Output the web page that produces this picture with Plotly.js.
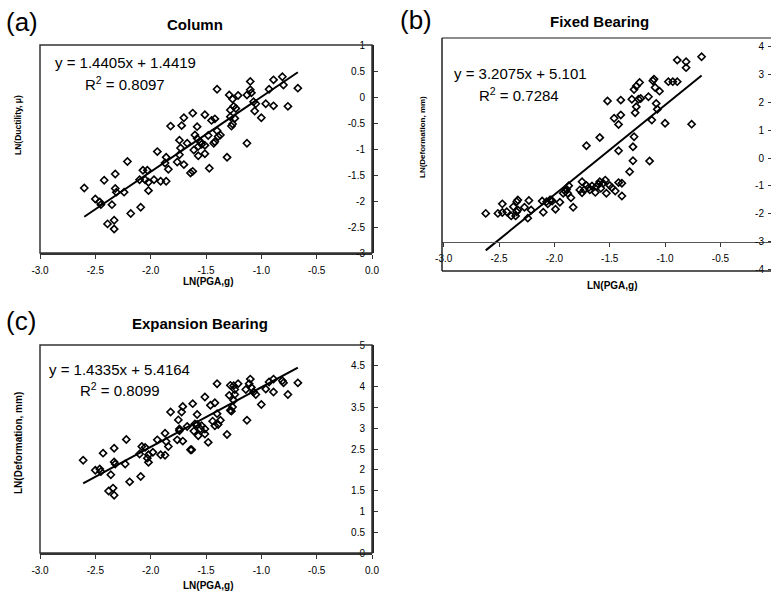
<!DOCTYPE html>
<html>
<head>
<meta charset="utf-8">
<script src="https://cdn.plot.ly/plotly-3.0.1.min.js"></script>
<style>html,body{margin:0;padding:0;background:#fff;}#chart{width:771px;height:591px;}</style>
</head>
<body>
<div id="chart"></div>
<script>
// ---------- DATA ----------
// Panel (a) Column: LN(PGA,g) vs LN(Ductility)
const xA = [-2.60,-2.50,-2.46,-2.45,-2.42,-2.39,-2.35,-2.33,-2.33,-2.32,-2.32,-2.31,-2.24,-2.21,-2.18,-2.09,-2.10,-2.07,-2.03,-2.02,-2.02,-2.05,-1.97,-1.94,-1.91,-1.86,-1.86,-1.87,-1.84,-1.82,-1.76,-1.74,-1.73,-1.72,-1.70,-1.70,-1.74,-1.67,-1.64,-1.62,-1.62,-1.61,-1.60,-1.58,-1.58,-1.57,-1.57,-1.55,-1.54,-1.51,-1.51,-1.51,-1.47,-1.48,-1.45,-1.42,-1.42,-1.40,-1.40,-1.39,-1.37,-1.43,-1.31,-1.29,-1.28,-1.28,-1.27,-1.26,-1.25,-1.26,-1.24,-1.23,-1.21,-1.13,-1.13,-1.10,-1.10,-1.09,-1.07,-1.06,-1.05,-1.00,-0.96,-0.93,-0.89,-0.89,-0.81,-0.80,-0.76,-0.67];
const yA = [-1.75,-1.96,-2.02,-2.07,-1.60,-2.44,-2.07,-2.37,-2.54,-1.48,-1.76,-1.83,-1.83,-1.24,-2.24,-2.12,-1.59,-1.41,-1.41,-1.64,-1.80,-1.59,-1.59,-1.05,-1.62,-1.62,-1.16,-1.27,-1.39,-0.56,-1.25,-0.83,-0.98,-0.55,-0.40,-1.30,-1.11,-0.89,-1.46,-1.43,-0.31,-1.02,-0.73,-0.57,-0.80,-0.95,-1.13,-0.86,-0.91,-0.34,-0.93,-1.09,-1.37,-0.74,-0.45,-0.42,-0.86,-0.65,0.15,-0.76,-0.73,-0.89,-1.16,0.04,-0.25,-0.38,-0.56,-0.04,-0.18,-0.52,-0.41,-0.22,0.03,-0.89,0.04,0.14,0.30,0.08,-0.09,-0.27,-0.13,-0.40,-0.13,0.15,0.33,-0.17,0.39,0.23,-0.18,0.17];

// Panel (b) Fixed Bearing: LN(PGA,g) vs LN(Deformation, mm)
const xB = [-2.62,-2.51,-2.47,-2.47,-2.43,-2.39,-2.37,-2.35,-2.34,-2.33,-2.33,-2.34,-2.27,-2.24,-2.23,-2.21,-2.11,-2.10,-2.07,-2.06,-2.04,-2.03,-2.02,-1.99,-1.95,-1.92,-1.90,-1.89,-1.88,-1.87,-1.85,-1.83,-1.75,-1.71,-1.77,-1.75,-1.73,-1.71,-1.69,-1.68,-1.66,-1.63,-1.62,-1.60,-1.59,-1.59,-1.58,-1.56,-1.54,-1.53,-1.52,-1.50,-1.48,-1.46,-1.45,-1.42,-1.42,-1.42,-1.40,-1.40,-1.39,-1.39,-1.32,-1.30,-1.29,-1.29,-1.28,-1.28,-1.27,-1.26,-1.26,-1.24,-1.23,-1.22,-1.15,-1.14,-1.12,-1.11,-1.10,-1.09,-1.08,-1.07,-1.05,-1.00,-0.97,-0.93,-0.89,-0.89,-0.81,-0.81,-0.76,-0.67];
const yB = [-1.98,-1.98,-1.64,-1.95,-1.92,-2.07,-1.74,-2.07,-1.56,-1.86,-1.50,-1.92,-1.76,-2.15,-1.52,-1.86,-1.54,-1.94,-1.56,-1.64,-1.50,-1.50,-1.54,-1.83,-1.58,-1.26,-1.20,-1.12,-1.26,-0.99,-1.42,-1.76,-0.85,0.44,-1.14,-1.24,-1.14,-0.98,-1.06,-1.14,-1.00,-1.23,-1.02,-0.94,-0.85,0.73,-1.08,-0.90,-0.79,-1.26,2.04,-0.98,-1.06,1.42,-1.18,-0.88,1.20,0.26,2.07,1.54,-0.90,-1.36,-0.49,2.10,0.40,-0.10,2.45,0.76,1.62,1.83,2.57,2.10,2.70,2.13,2.19,-0.11,1.36,2.76,2.82,2.52,1.95,1.74,2.39,1.24,2.73,2.73,2.73,3.50,3.44,3.23,1.21,3.62];

// Panel (c) Expansion Bearing: LN(PGA,g) vs LN(Deformation, mm)
const xC = [-2.61,-2.50,-2.46,-2.45,-2.43,-2.38,-2.36,-2.34,-2.33,-2.33,-2.33,-2.32,-2.23,-2.22,-2.19,-2.09,-2.10,-2.08,-2.05,-2.03,-2.02,-2.02,-1.98,-1.94,-1.91,-1.87,-1.87,-1.86,-1.84,-1.82,-1.76,-1.75,-1.74,-1.72,-1.71,-1.71,-1.74,-1.67,-1.64,-1.63,-1.62,-1.61,-1.60,-1.58,-1.58,-1.57,-1.55,-1.54,-1.51,-1.51,-1.51,-1.48,-1.46,-1.44,-1.42,-1.42,-1.40,-1.40,-1.39,-1.37,-1.31,-1.29,-1.28,-1.28,-1.27,-1.26,-1.25,-1.25,-1.24,-1.24,-1.21,-1.13,-1.14,-1.11,-1.10,-1.09,-1.07,-1.05,-1.00,-0.96,-0.93,-0.89,-0.89,-0.81,-0.80,-0.76,-0.67];
const yC = [2.23,1.99,2.02,1.96,2.40,1.49,1.88,1.56,1.39,2.52,2.19,2.14,2.14,2.73,1.71,1.84,2.38,2.56,2.54,2.28,2.18,2.36,2.42,2.72,2.36,2.35,2.88,2.68,2.56,3.39,2.72,3.20,2.94,3.39,3.52,2.69,2.98,3.04,2.48,2.48,3.59,2.93,3.10,3.33,3.09,2.82,2.98,3.06,3.75,2.86,2.98,2.66,3.55,3.17,3.61,3.06,3.35,4.07,3.09,3.19,2.85,3.79,4.03,3.43,3.41,3.51,3.67,4.02,3.93,3.81,4.07,3.19,3.93,4.07,4.18,3.98,3.87,3.81,3.57,3.94,4.11,4.18,3.87,4.14,4.09,3.81,4.09];

// Regression equations as printed on the chart
const slopeA = 1.4405, interceptA = 1.4419, r2A = "0.8097";
const slopeB = 3.2075, interceptB = 5.101,  r2B = "0.7284";
const slopeC = 1.4335, interceptC = 5.4164, r2C = "0.8099";

const titles = ["Column", "Fixed Bearing", "Expansion Bearing"];
const panelLetters = ["(a)", "(b)", "(c)"];

// Tick labels
const xTickVals = [-3.0,-2.5,-2.0,-1.5,-1.0,-0.5,0.0];
const xTickText = ["-3.0","-2.5","-2.0","-1.5","-1.0","-0.5","0.0"];
const yATickVals = [-3,-2.5,-2,-1.5,-1,-0.5,0,0.5,1];
const yATickText = ["-3","-2.5","-2","-1.5","-1","-0.5","0","0.5","1"];
const yBTickVals = [-4,-3,-2,-1,0,1,2,3,4];
const yBTickText = ["-4","-3","-2","-1","0","1","2","3","4"];
const yCTickVals = [0,0.5,1,1.5,2,2.5,3,3.5,4,4.5,5];
const yCTickText = ["0","0.5","1","1.5","2","2.5","3","3.5","4","4.5","5"];

// ---------- DRAWING ----------
const W = 771, H = 591;
const px = v => v / W;
const py = v => 1 - v / H;
const FONT = "Liberation Sans, Arial, Helvetica, sans-serif";

function trend(xs, m, b) {
  const lo = Math.min(...xs), hi = Math.max(...xs);
  return { x: [lo, hi], y: [m * lo + b, m * hi + b] };
}
const mk = { symbol: 'diamond-open', size: 5.5, color: '#000', line: { width: 1.6, color: '#000' } };

const tA = trend(xA, slopeA, interceptA);
const tB = trend(xB, slopeB, interceptB);
const tC = trend(xC, slopeC, interceptC);

const data = [
  { x: xA, y: yA, xaxis: 'x', yaxis: 'y', mode: 'markers', type: 'scatter', marker: mk, cliponaxis: false },
  { x: tA.x, y: tA.y, xaxis: 'x', yaxis: 'y', mode: 'lines', type: 'scatter', line: { color: '#000', width: 2 } },
  { x: xB, y: yB, xaxis: 'x2', yaxis: 'y2', mode: 'markers', type: 'scatter', marker: mk, cliponaxis: false },
  { x: tB.x, y: tB.y, xaxis: 'x2', yaxis: 'y2', mode: 'lines', type: 'scatter', line: { color: '#000', width: 2 } },
  { x: xC, y: yC, xaxis: 'x3', yaxis: 'y3', mode: 'markers', type: 'scatter', marker: mk, cliponaxis: false },
  { x: tC.x, y: tC.y, xaxis: 'x3', yaxis: 'y3', mode: 'lines', type: 'scatter', line: { color: '#000', width: 2 } }
];

const tickFont = { family: FONT, size: 10, color: '#000' };
function xAx(domain, range, extra) {
  return Object.assign({
    domain: domain, range: range, tickmode: 'array', tickvals: xTickVals, ticktext: xTickText,
    ticks: 'outside', ticklen: 4, tickcolor: '#333', tickwidth: 1,
    showline: true, linecolor: '#333', linewidth: 1.5,
    showgrid: false, zeroline: false, tickfont: tickFont, fixedrange: true, ticklabelstandoff: 3,
    ticklabeloverflow: 'allow'
  }, extra || {});
}
function yAx(domain, range, vals, text, extra) {
  return Object.assign({
    domain: domain, range: range, tickmode: 'array', tickvals: vals, ticktext: text,
    side: 'left', anchor: 'free', ticks: 'inside', ticklen: 4, tickcolor: '#333', tickwidth: 1,
    showline: true, linecolor: '#222', linewidth: 1.5,
    showgrid: false, zeroline: false, tickfont: tickFont, fixedrange: true,
    ticklabeloverflow: 'allow', ticklabelstandoff: 5
  }, extra || {});
}

const layout = {
  width: W, height: H,
  margin: { l: 0, r: 0, t: 0, b: 0, pad: 0 },
  paper_bgcolor: '#fff', plot_bgcolor: 'rgba(0,0,0,0)',
  showlegend: false,
  font: { family: FONT, color: '#000' },
  xaxis:  xAx([px(40), px(372)], [-3, 0], { anchor: 'y' }),
  yaxis:  yAx([py(253), py(45)], [-3, 1], yATickVals, yATickText, { position: px(372) }),
  xaxis2: xAx([px(442), 1], [-3.015, -0.043], { anchor: 'free', position: py(242), linecolor: '#555', linewidth: 1 }),
  yaxis2: yAx([py(271), py(38)], [-4.04, 4.29], yBTickVals, yBTickText, { position: 1, showline: false, ticks: 'outside', ticklen: 3, ticklabelstandoff: 2 }),
  xaxis3: xAx([px(40), px(372)], [-3, 0], { anchor: 'y3' }),
  yaxis3: yAx([py(553), py(345)], [0, 5], yCTickVals, yCTickText, { position: px(372) }),
  shapes: [
    { type: 'rect', xref: 'x domain', yref: 'y domain', x0: 0, x1: 1, y0: 0, y1: 1, line: { color: '#333', width: 1.5 } },
    { type: 'rect', xref: 'x3 domain', yref: 'y3 domain', x0: 0, x1: 1, y0: 0, y1: 1, line: { color: '#333', width: 1.5 } },
    { type: 'line', xref: 'x2 domain', yref: 'y2 domain', x0: 0, x1: 1, y0: 1, y1: 1, line: { color: '#666', width: 1.5 } },
    { type: 'line', xref: 'x2 domain', yref: 'y2 domain', x0: 0, x1: 0, y0: 0, y1: 1, line: { color: '#222', width: 1.5 } },
    { type: 'line', xref: 'x2 domain', yref: 'y2 domain', x0: 0, x1: 1, y0: 0, y1: 0, line: { color: '#222', width: 1.5 } }
  ],
  annotations: []
};

function ann(text, x, y, size, opts) {
  layout.annotations.push(Object.assign({
    text: text, xref: 'paper', yref: 'paper', x: px(x), y: py(y),
    xanchor: 'center', yanchor: 'middle', showarrow: false,
    font: { family: FONT, size: size, color: '#000' }
  }, opts || {}));
}
// panel letters
ann(panelLetters[0], 4, 22, 26, { xanchor: 'left' });
ann(panelLetters[1], 398, 20, 26, { xanchor: 'left' });
ann(panelLetters[2], 4, 321, 26, { xanchor: 'left' });
// titles
ann('<b>' + titles[0] + '</b>', 195, 24, 15);
ann('<b>' + titles[1] + '</b>', 599, 22, 15);
ann('<b>' + titles[2] + '</b>', 200, 323, 15);
// equations
const eq = (m, b) => 'y = ' + m + 'x + ' + b;
ann(eq(slopeA.toFixed(4), interceptA.toFixed(4)), 53, 62, 15, { xanchor: 'left' });
ann('R<sup>2</sup> = ' + r2A, 83, 83, 15, { xanchor: 'left' });
ann(eq(slopeB.toFixed(4), interceptB.toFixed(3)), 452, 73, 15, { xanchor: 'left' });
ann('R<sup>2</sup> = ' + r2B, 477, 95, 15, { xanchor: 'left' });
ann(eq(slopeC.toFixed(4), interceptC.toFixed(4)), 47, 369, 15, { xanchor: 'left' });
ann('R<sup>2</sup> = ' + r2C, 78, 389, 15, { xanchor: 'left' });
// axis titles
ann('<b>LN(PGA,g)</b>', 209, 281, 10);
ann('<b>LN(PGA,g)</b>', 612, 285, 10);
ann('<b>LN(PGA,g)</b>', 209, 585, 10);
ann('<b>LN(Ductility, \u03bc)</b>', 18, 125, 8.5, { textangle: -90 });
ann('<b>LN(Deformation, mm)</b>', 422, 137, 8, { textangle: -90 });
ann('<b>LN(Deformation, mm)</b>', 18, 443, 10, { textangle: -90 });

Plotly.newPlot('chart', data, layout, { staticPlot: true, displayModeBar: false });
</script>
</body>
</html>
